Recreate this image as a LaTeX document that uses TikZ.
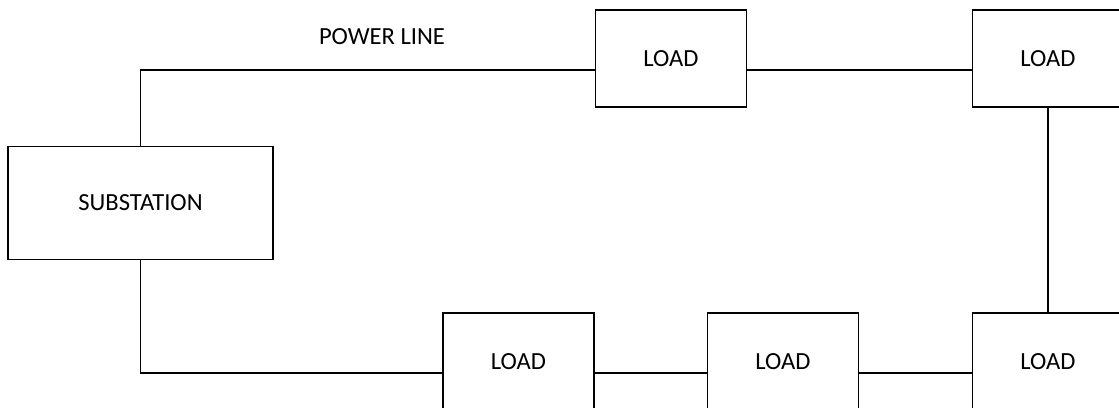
\documentclass[tikz,border=0pt]{standalone}
\usepackage{fontspec}
\setmainfont{Carlito}
\usepackage{tikz}

\tikzset{
  unit/.style={draw=black, line width=1.7pt, fill=white, inner sep=0pt,
    font=\fontsize{24.6}{29}\selectfont},
  loadbox/.style={unit, minimum width=151pt, minimum height=97pt},
  wire/.style={draw=black, line width=1.7pt}
}

\begin{document}
\begin{tikzpicture}[x=1pt, y=-1pt]
\useasboundingbox (0,0) rectangle (1119,407);
\clip (0,0) rectangle (1119,407);
% substation and loads
\node [unit, minimum width=265pt, minimum height=113pt] (sub) at (140.5,203) {SUBSTATION};
\node [loadbox] (ld1) at (671,58.5) {LOAD};
\node [loadbox] (ld2) at (1048,58.5) {LOAD};
\node [loadbox] (ld3) at (1048,361.5) {LOAD};
\node [loadbox] (ld4) at (783,361.5) {LOAD};
\node [loadbox] (ld5) at (518.5,361.5) {LOAD};
% power line loop
\draw [wire] (sub.north) |- ([yshift=-11.5pt]ld1.west);
\draw [wire] ([yshift=-11.5pt]ld1.east) -- ([yshift=-11.5pt]ld2.west);
\draw [wire] (ld2.south) -- (ld3.north);
\draw [wire] ([yshift=-11.5pt]ld3.west) -- ([yshift=-11.5pt]ld4.east);
\draw [wire] ([yshift=-11.5pt]ld4.west) -- ([yshift=-11.5pt]ld5.east);
\draw [wire] (sub.south) |- ([yshift=-11.5pt]ld5.west);
\node [font=\fontsize{24.6}{29}\selectfont] (pl) at (382,37) {POWER LINE};
\end{tikzpicture}
\end{document}
